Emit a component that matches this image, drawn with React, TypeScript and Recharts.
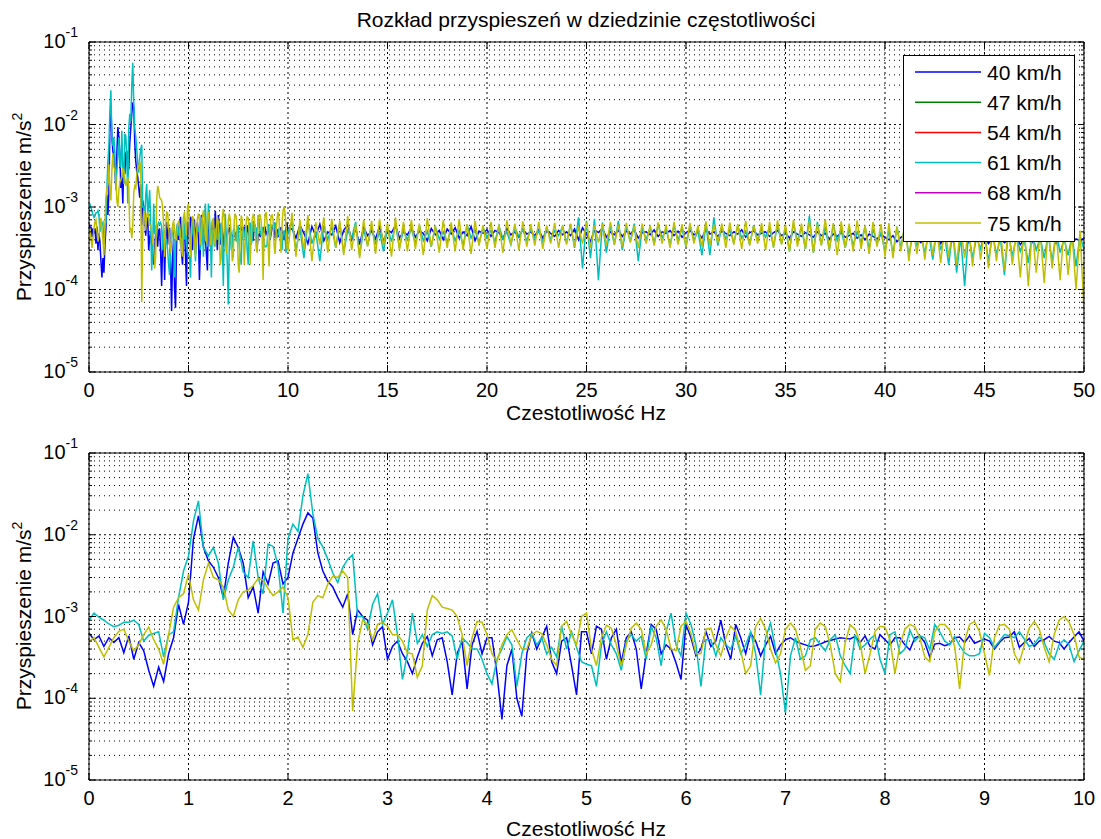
import { LineChart, Line, XAxis, YAxis, CartesianGrid } from 'recharts';

// amplitudes are stored in units of 1e-4 m/s^2
const UNIT = 1e-4;

const SPEEDS = ['40 km/h', '47 km/h', '54 km/h', '61 km/h', '68 km/h', '75 km/h'];
const COLORS = ['#0000ff', '#008000', '#ff0000', '#00bfbf', '#bf00bf', '#bfbf00'];

// 0 - 10 Hz, one value every 0.05 Hz (both panels)
const b40Fine = [
  6.3, 5.2, 5.8, 4.3, 5.5, 4.8, 5.5, 3.6, 5.8, 3.0,
  4.8, 3.8, 2.2, 1.4, 2.4, 1.6, 3.5, 5.5, 14, 8,
  15, 90, 170, 70, 48, 40, 30, 17, 45, 93,
  70, 45, 17, 23, 11, 35, 25, 45, 48, 25,
  30, 60, 90, 135, 185, 160, 60, 36, 27, 23,
  17, 13, 19, 6, 12, 10, 9, 4.5, 6.5, 7.5,
  3.0, 4.3, 5, 3.5, 2.8, 2.0, 3.2, 4.7, 5.7, 3.3,
  5.2, 5.5, 2.8, 1.1, 3.5, 5, 1.3, 4.5, 6.6, 3.5,
  5.5, 5.5, 2.0, 0.55, 2.5, 4.0, 1.0, 0.6, 3.5, 6.3,
  4.0, 5.5, 7.6, 2.8, 2.0, 5.0, 5.5, 2.5, 1.1, 6.5,
  6.5, 3.5, 7.6, 7.0, 3.0, 5.5, 7.0, 2.7, 5.5, 6.5,
  4.0, 1.3, 3.5, 8.0, 7.0, 3.5, 4.5, 4.0, 2.7, 1.7,
  8.0, 5.5, 3.3, 4.0, 6.6, 4.3, 5.0, 9.0, 4.5, 3.0,
  8.0, 5.5, 3.5, 6.3, 5.0, 3.3, 4.5, 5.7, 3.5, 4.5,
  5.2, 5.5, 5.0, 4.7, 4.5, 4.3, 4.4, 4.6, 4.9, 5.1,
  5.3, 5.5, 5.4, 5.3, 5.7, 4.8, 5.8, 4.3, 4.0, 6.0,
  5.2, 4.5, 5.5, 5.5, 4.5, 3.9, 5.5, 5.8, 4.8, 3.2,
  4.6, 4.7, 4.4, 4.6, 5.5, 5.6, 4.8, 5.8, 4.7, 5.0,
  5.3, 5.0, 4.0, 4.8, 5.5, 5.6, 6.5, 4.2, 4.8, 5.4,
  4.3, 5.0, 5.2, 5.7, 5.0, 4.8, 4.0, 4.8, 5.6, 6.5,
  5.0,
];

const c61Fine = [
  9, 11, 9.8, 9, 8.1, 7.5, 7.8, 8.5, 8.5, 9,
  8, 5, 5.9, 6.2, 6.5, 3.2, 6, 6.5, 17, 36,
  55, 148, 260, 70, 55, 70, 45, 16, 28, 40,
  70, 35, 30, 84, 30, 19, 77, 72, 42, 11,
  90, 135, 110, 300, 560, 180, 90, 71, 50, 34,
  26, 40, 50, 57, 10, 10, 7, 14, 19, 8,
  11, 16, 6, 1.7, 3.5, 11, 4.7, 6, 4.3, 6,
  6.5, 6.2, 6.5, 5.8, 3.0, 5.5, 4.8, 4.0, 4.0, 3.0,
  2.0, 1.5, 3.0, 4.0, 5.7, 4.5, 1.4, 3.5, 5.5, 6.2,
  4.5, 5.5, 3.5, 4.2, 3.2, 7.6, 4.0, 6.5, 4.2, 2.8,
  2.6, 2.5, 1.4, 4.5, 6.5, 4.5, 3.5, 2.2, 5.0, 6.0,
  5.0, 5.7, 3.0, 7.5, 5.5, 2.5, 6.5, 11, 4.5, 3.3,
  11, 8, 4.5, 1.4, 5.2, 5.2, 3.3, 5.5, 4.5, 4.0,
  5.8, 3.5, 4.5, 6.5, 3.5, 1.1, 5.5, 8.3, 4.0, 2.0,
  0.66, 3.3, 5.5, 3.0, 3.3, 5.2, 5.5, 4.5, 3.8, 5.2,
  6.0, 3.3, 2.5, 2.0, 6.0, 4.0, 4.5, 5.3, 6.0, 3.0,
  2.0, 6.0, 6.5, 3.5, 4.0, 6.8, 5.0, 5.8, 5.5, 3.9,
  8.0, 6.5, 5.0, 4.5, 5.7, 4.4, 3.6, 3.3, 3.3, 3.5,
  6.2, 5.5, 4.2, 5.0, 6.0, 5.8, 5.5, 6.5, 5.3, 4.3,
  4.6, 5.6, 4.8, 3.5, 3.0, 4.5, 5.2, 4.5, 2.8, 3.8,
  5.0,
];

const y75Fine = [
  4.9, 5.5, 4.2, 3.2, 4.2, 5.5, 6.6, 7.0, 5.0, 3.8,
  4.5, 6, 7.4, 5.2, 4, 2.6, 6, 13, 17, 19,
  33, 16, 12, 28, 45, 30, 28, 23, 12, 10,
  16, 20, 21, 24, 29, 28, 22, 18, 20, 23,
  17, 5.2, 5.6, 4.2, 6, 15, 18, 17, 25, 31,
  30, 36, 30, 0.7, 4.7, 9, 8, 5.2, 8, 8.5,
  7.6, 6, 6, 5, 3.6, 3.5, 1.8, 2.5, 12, 18,
  16, 13, 12.5, 12, 10, 6, 2.5, 5.5, 8.7, 8.5,
  6, 3.5, 2.8, 4.5, 6, 6.9, 5.2, 4, 4, 6,
  6.6, 6.2, 4.5, 3, 2.5, 7.6, 8.7, 6, 4.5, 10,
  11, 4.0, 2.5, 5.5, 7.8, 7.2, 4.5, 2.5, 4.5, 7.2,
  8.3, 7, 3.5, 4.5, 7.6, 9.1, 7, 4, 3.8, 7.6,
  8.7, 6.2, 3.5, 3.5, 7.0, 7.2, 4.5, 3.3, 5.5, 7.6,
  6.5, 3.8, 2.0, 2.5, 7.5, 9.5, 7, 4, 2.7, 3.5,
  7.0, 8.3, 7, 4.2, 2.2, 2.5, 7, 8.3, 7.5, 4.5,
  2.0, 1.6, 4.8, 7.9, 7, 4.8, 2.0, 3.5, 6.6, 7.6,
  7.4, 5.2, 2.0, 4.5, 7.0, 8.0, 7.5, 5.5, 3.2, 2.8,
  6.5, 8.0, 8.0, 6.8, 4.3, 1.3, 5.0, 8.0, 8.7, 6.5,
  3.5, 1.9, 5.5, 7.8, 8.0, 7.0, 3.5, 2.7, 4.5, 7.2,
  8.7, 7.0, 4.2, 2.8, 6.0, 9.0, 10, 8.5, 6.0, 3.2,
  3.0,
];

// 10.2 - 50 Hz, one value every 0.2 Hz (top panel only)
const b40Coarse = [
  5.5, 4.2, 6.0, 4.8, 3.6, 5.8, 4.4, 6.2, 3.9, 5.0,
  4.6, 5.9, 3.7, 5.2, 6.1, 4.0, 5.4, 3.5, 5.7, 4.5,
  5.1, 4.1, 5.8, 3.8, 5.3, 4.9, 6.0, 4.2, 5.0, 4.6,
  5.6, 4.3, 5.1, 4.8, 3.9, 5.5, 4.6, 5.2, 4.0, 5.4,
  4.7, 5.6, 4.2, 5.0, 4.5, 5.8, 3.9, 5.1, 4.8, 5.3,
  4.4, 5.2, 4.9, 4.1, 5.5, 4.6, 5.0, 4.3, 5.4, 4.7,
  5.0, 4.5, 5.3, 4.2, 5.1, 4.8, 4.4, 5.2, 4.6, 5.0,
  4.5, 5.4, 4.0, 5.6, 4.7, 3.8, 5.3, 4.9, 5.5, 4.3,
  5.0, 4.6, 5.2, 4.4, 5.1, 4.7, 5.3, 4.2, 4.9, 5.0,
  4.6, 5.3, 4.4, 5.0, 4.8, 5.2, 4.5, 5.1, 4.3, 4.9,
  5.2, 4.6, 4.9, 4.2, 5.4, 4.7, 5.0, 4.4, 5.1, 4.8,
  4.5, 5.0, 4.7, 5.3, 4.3, 4.9, 5.1, 4.6, 4.8, 5.0,
  4.4, 4.9, 5.2, 4.5, 4.8, 4.2, 5.0, 4.7, 4.4, 4.9,
  4.6, 4.3, 5.0, 4.5, 4.8, 4.1, 4.7, 4.4, 4.9, 4.3,
  4.5, 4.8, 4.2, 4.6, 4.0, 4.7, 4.4, 4.1, 4.6, 4.3,
  4.0, 4.5, 3.8, 4.3, 4.6, 3.9, 4.4, 4.1, 3.7, 4.2,
  4.4, 3.9, 4.2, 3.6, 4.3, 4.0, 3.8, 4.5, 3.9, 4.1,
  3.7, 4.2, 4.0, 3.8, 4.4, 3.6, 4.1, 3.9, 4.3, 3.7,
  4.0, 3.8, 4.2, 3.5, 4.1, 3.9, 3.7, 4.3, 3.8, 4.0,
  3.9, 4.2, 3.6, 4.0, 3.8, 4.3, 3.7, 4.1, 3.9, 4.2,
];

const c61Coarse = [
  6.5, 3.0, 5.5, 2.4, 6.8, 3.6, 5.0, 2.2, 6.0, 4.0,
  5.8, 3.2, 6.4, 2.8, 5.2, 4.2, 6.6, 2.6, 5.4, 3.4,
  6.0, 3.5, 5.0, 2.9, 5.7, 3.8, 6.2, 3.2, 5.3, 4.0,
  5.5, 3.6, 6.0, 3.9, 5.1, 3.3, 5.8, 4.1, 5.0, 3.7,
  5.6, 3.9, 5.2, 3.4, 6.1, 4.2, 5.3, 3.6, 5.7, 4.3,
  5.2, 3.8, 5.9, 4.1, 5.0, 3.5, 5.6, 4.4, 5.3, 3.9,
  5.5, 4.2, 5.1, 3.8, 5.7, 4.0, 5.2, 4.5, 5.8, 3.7,
  6.2, 3.2, 7.5, 1.8, 6.8, 2.4, 7.2, 1.3, 6.5, 2.8,
  6.0, 3.5, 6.8, 3.0, 5.9, 3.8, 6.3, 2.2, 5.6, 4.0,
  5.7, 3.6, 6.1, 4.2, 5.4, 3.4, 6.0, 4.0, 5.5, 3.3,
  6.0, 3.9, 5.2, 2.6, 6.2, 2.6, 7.5, 3.4, 5.8, 4.1,
  5.3, 3.7, 5.9, 4.2, 5.1, 3.5, 6.0, 3.9, 5.4, 4.3,
  5.6, 3.3, 6.2, 3.6, 5.5, 2.9, 6.4, 3.8, 5.7, 3.1,
  7.8, 2.8, 6.6, 3.5, 5.8, 3.0, 6.1, 3.9, 5.3, 3.2,
  5.6, 3.4, 5.0, 3.7, 5.8, 3.1, 5.4, 3.6, 4.9, 2.9,
  5.2, 2.7, 5.8, 3.2, 6.0, 2.5, 5.0, 3.4, 4.6, 2.8,
  4.8, 2.3, 5.3, 3.0, 4.5, 2.0, 5.1, 1.6, 4.4, 1.1,
  4.9, 2.4, 4.3, 3.1, 5.0, 2.2, 4.6, 2.7, 4.2, 1.5,
  5.1, 2.5, 4.4, 2.9, 4.0, 2.1, 4.8, 3.0, 4.3, 2.4,
  4.7, 2.2, 5.0, 2.8, 4.1, 2.6, 4.5, 1.9, 4.6, 3.0,
];

const y75Coarse = [
  8.5, 2.5, 7.0, 3.0, 8.0, 2.2, 6.5, 3.5, 7.5, 2.8,
  7.2, 3.2, 6.8, 2.6, 7.8, 3.0, 6.2, 2.4, 7.0, 3.3,
  6.8, 2.7, 7.2, 3.4, 6.4, 2.5, 7.5, 3.0, 6.6, 2.9,
  7.0, 3.1, 6.3, 2.6, 7.3, 3.3, 6.0, 2.8, 6.9, 3.2,
  6.5, 2.9, 7.1, 3.0, 6.2, 2.7, 6.8, 3.4, 6.0, 3.1,
  6.6, 3.2, 6.1, 2.8, 6.9, 3.5, 6.3, 3.0, 6.7, 3.3,
  6.2, 3.4, 6.6, 3.1, 5.9, 3.6, 6.4, 3.2, 6.0, 3.5,
  6.3, 3.3, 5.8, 3.6, 6.5, 3.2, 6.0, 3.7, 6.2, 3.4,
  6.6, 3.5, 6.1, 3.3, 6.4, 3.7, 5.9, 3.2, 6.3, 3.6,
  6.0, 3.4, 6.5, 3.6, 6.1, 3.2, 6.6, 3.5, 6.2, 3.3,
  6.4, 3.6, 6.0, 3.3, 6.7, 3.4, 6.1, 3.7, 6.3, 3.2,
  6.5, 3.5, 6.2, 3.1, 6.8, 3.4, 6.0, 3.6, 6.4, 3.0,
  6.6, 3.2, 6.9, 3.5, 6.1, 2.9, 7.0, 3.3, 6.3, 3.1,
  6.8, 2.8, 6.2, 3.4, 7.1, 3.0, 6.4, 2.6, 6.7, 3.2,
  6.3, 2.9, 6.9, 3.1, 6.0, 2.7, 6.6, 3.3, 6.2, 2.5,
  6.4, 2.4, 5.8, 2.9, 6.6, 2.2, 6.0, 2.7, 5.7, 2.3,
  6.1, 2.6, 5.6, 2.1, 6.3, 2.5, 5.4, 2.0, 5.9, 2.4,
  5.5, 1.9, 6.0, 2.3, 5.2, 1.8, 5.8, 2.2, 5.3, 1.7,
  5.6, 2.0, 5.1, 1.4, 5.9, 1.1, 5.4, 1.6, 5.0, 1.2,
  5.5, 1.8, 5.0, 1.3, 5.7, 1.5, 4.8, 1.0, 5.2, 0.55,
];

const xTicksTop = [0, 5, 10, 15, 20, 25, 30, 35, 40, 45, 50];
const xTicksBottom = [0, 1, 2, 3, 4, 5, 6, 7, 8, 9, 10];
const decades = [1e-5, 1e-4, 1e-3, 1e-2, 1e-1];
const minorY = decades.slice(0, 4).flatMap((d) => [2, 3, 4, 5, 6, 7, 8, 9].map((k) => k * d));
const yTicks = [...decades, ...minorY].sort((a, b) => a - b);

const fineRows = b40Fine.map((v, i) => ({
  f: Math.round(i * 5) / 100,
  s40: v * UNIT,
  s61: c61Fine[i] * UNIT,
  s75: y75Fine[i] * UNIT,
}));
const coarseRows = b40Coarse.map((v, i) => ({
  f: Math.round(102 + i * 2) / 10,
  s40: v * UNIT,
  s61: c61Coarse[i] * UNIT,
  s75: y75Coarse[i] * UNIT,
}));
const topRows = [...fineRows, ...coarseRows];

const FONT = '"Liberation Sans", Arial, Helvetica, sans-serif';
const FS = 21;
const TICK_FS = 20;

function isMajor(v: number) {
  const e = Math.log10(v);
  return Math.abs(e - Math.round(e)) < 1e-6;
}

function LeftTick({ x, y, payload }: any) {
  const major = isMajor(payload.value);
  return (
    <g>
      <line x1={x} x2={x + (major ? 6 : 3)} y1={y} y2={y} stroke="#000" />
      {major && (
        <text x={x - 11} y={y + 6} textAnchor="end" fontSize={TICK_FS} fontFamily={FONT} fill="#000">
          10
          <tspan dy={-11} fontSize={14}>
            {Math.round(Math.log10(payload.value))}
          </tspan>
        </text>
      )}
    </g>
  );
}

function RightTick({ x, y, payload }: any) {
  const major = isMajor(payload.value);
  return <line x1={x} x2={x - (major ? 6 : 3)} y1={y} y2={y} stroke="#000" />;
}

function BottomTick({ x, y, payload }: any) {
  return (
    <g>
      <line x1={x} x2={x} y1={y} y2={y - 7} stroke="#000" />
      <text x={x} y={y + 25} textAnchor="middle" fontSize={TICK_FS} fontFamily={FONT} fill="#000">
        {payload.value}
      </text>
    </g>
  );
}

function TopTick({ x, y }: any) {
  return <line x1={x} x2={x} y1={y} y2={y + 7} stroke="#000" />;
}

function Panel({ rows, xMax, xTicks, height }: { rows: any[]; xMax: number; xTicks: number[]; height: number }) {
  return (
    <LineChart width={1101} height={height} data={rows} margin={{ top: 41, right: 16, bottom: 0, left: 0 }}>
      <CartesianGrid horizontalValues={minorY} vertical={false} stroke="#000" strokeDasharray="1 4" />
      <CartesianGrid horizontalValues={decades} verticalValues={xTicks} stroke="#000" strokeDasharray="2 3" />
      <XAxis
        dataKey="f"
        type="number"
        domain={[0, xMax]}
        ticks={xTicks}
        interval={0}
        allowDataOverflow
        height={28}
        tickSize={0}
        tickMargin={0}
        tick={<BottomTick />}
        axisLine={{ stroke: '#000' }}
      />
      <XAxis
        xAxisId="top"
        dataKey="f"
        orientation="top"
        type="number"
        domain={[0, xMax]}
        ticks={xTicks}
        interval={0}
        allowDataOverflow
        height={1}
        tickSize={0}
        tickMargin={0}
        tick={<TopTick />}
        axisLine={{ stroke: '#000' }}
      />
      <YAxis
        type="number"
        scale="log"
        domain={[1e-5, 1e-1]}
        ticks={yTicks}
        interval={0}
        allowDataOverflow
        width={89}
        tickSize={0}
        tickMargin={0}
        tick={<LeftTick />}
        axisLine={{ stroke: '#000' }}
      />
      <YAxis
        yAxisId="right"
        orientation="right"
        type="number"
        scale="log"
        domain={[1e-5, 1e-1]}
        ticks={yTicks}
        interval={0}
        allowDataOverflow
        width={1}
        tickSize={0}
        tickMargin={0}
        tick={<RightTick />}
        axisLine={{ stroke: '#000' }}
      />
      <Line dataKey="s40" name={SPEEDS[0]} stroke={COLORS[0]} strokeWidth={1.5} dot={false} isAnimationActive={false} />
      <Line dataKey="s61" name={SPEEDS[3]} stroke={COLORS[3]} strokeWidth={1.5} dot={false} isAnimationActive={false} />
      <Line dataKey="s75" name={SPEEDS[5]} stroke={COLORS[5]} strokeWidth={1.5} dot={false} isAnimationActive={false} />
    </LineChart>
  );
}

function YLabel({ cy }: { cy: number }) {
  return (
    <div
      style={{
        position: 'absolute',
        left: 22,
        top: cy,
        transform: 'translate(-50%, -50%) rotate(-90deg)',
        whiteSpace: 'nowrap',
        fontSize: FS,
        lineHeight: 1,
      }}
    >
      Przyspieszenie m/s<sup style={{ fontSize: 14, verticalAlign: 9 }}>2</sup>
    </div>
  );
}

function CenterText({ cy, children }: { cy: number; children: any }) {
  return (
    <div
      style={{
        position: 'absolute',
        left: 586,
        top: cy,
        transform: 'translate(-50%, -50%)',
        whiteSpace: 'nowrap',
        fontSize: FS,
        lineHeight: 1,
      }}
    >
      {children}
    </div>
  );
}

function LegendBox() {
  return (
    <svg style={{ position: 'absolute', left: 903, top: 55 }} width={173} height={188}>
      <rect x={0.5} y={0.5} width={171} height={186} fill="#fff" stroke="#000" />
      {SPEEDS.map((s, i) => {
        const cy = 17 + i * 30.2;
        return (
          <g key={s}>
            <line x1={12} x2={78} y1={cy} y2={cy} stroke={COLORS[i]} strokeWidth={1.5} />
            <text x={84} y={cy + 7.5} fontSize={FS} fontFamily={FONT} fill="#000">
              {s}
            </text>
          </g>
        );
      })}
    </svg>
  );
}

export default function App() {
  return (
    <div
      style={{
        position: 'absolute',
        left: 0,
        top: 0,
        width: 1101,
        height: 839,
        background: '#fff',
        fontFamily: FONT,
        color: '#000',
        overflow: 'hidden',
      }}
    >
      <div style={{ position: 'absolute', left: 0, top: 0 }}>
        <Panel rows={topRows} xMax={50} xTicks={xTicksTop} height={400} />
      </div>
      <div style={{ position: 'absolute', left: 0, top: 411 }}>
        <Panel rows={fineRows} xMax={10} xTicks={xTicksBottom} height={397} />
      </div>
      <CenterText cy={19}>Rozkład przyspieszeń w dziedzinie częstotliwości</CenterText>
      <CenterText cy={412}>Czestotliwość Hz</CenterText>
      <CenterText cy={828}>Czestotliwość Hz</CenterText>
      <YLabel cy={207} />
      <YLabel cy={616} />
      <LegendBox />
    </div>
  );
}
